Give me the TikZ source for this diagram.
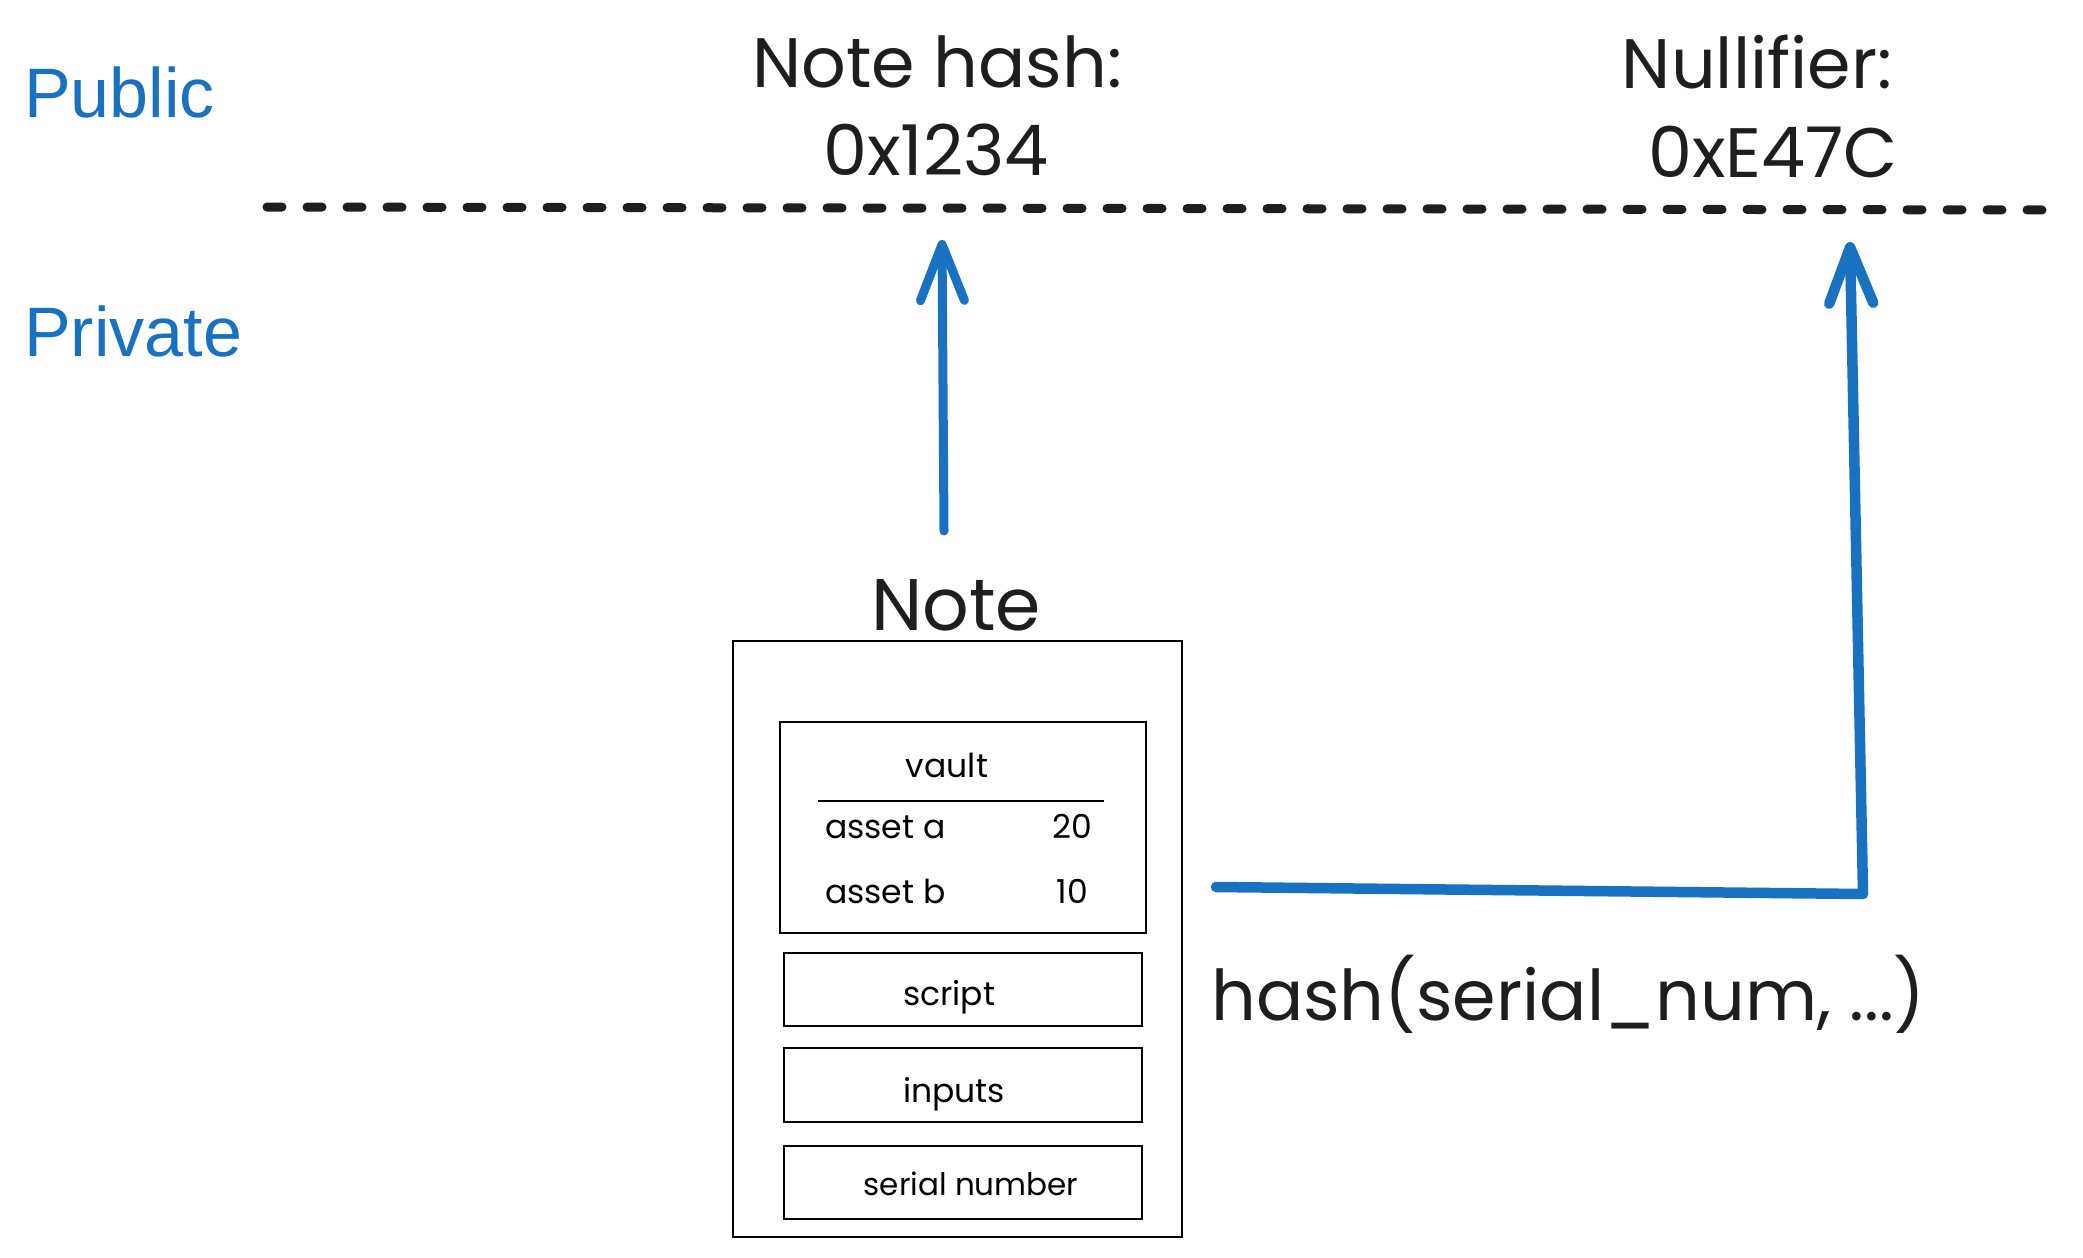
\documentclass[tikz,border=0pt]{standalone}
\usepackage{fontspec}
\setmainfont{Poppins}
\newfontfamily\labelfont{Liberation Sans}
\usetikzlibrary{arrows.meta}
\definecolor{ink}{HTML}{1E1E1E}
\definecolor{exblue}{HTML}{1971C2}
\begin{document}
\begin{tikzpicture}[x=1pt,y=-1pt,
  zone/.style={anchor=base west, inner sep=0, text=exblue, font=\labelfont\fontsize{70}{84}\selectfont},
  big/.style={anchor=base, inner sep=0, text=ink, font=\fontsize{70}{84}\selectfont},
  small/.style={anchor=base, inner sep=0, text=black, font=\fontsize{33}{40}\selectfont},
  boxframe/.style={draw=black, line width=2.2pt, inner sep=0, fill=none},
  bluearrow/.style={draw=exblue, line width=9pt, line cap=round, line join=round,
    -{Straight Barb[length=56pt,width=44pt,round]}},
  divider/.style={draw=ink, line width=9pt, line cap=round, dash pattern=on 15pt off 25pt},
]
\useasboundingbox (0,0) rectangle (2083,1258);

% zone labels
\node[zone] (public) at (24,117) {Public};
\node[zone] (private) at (24,356) {Private};

% divider
\coordinate (dl) at (267,207);
\coordinate (dr) at (2055,210);
\draw[divider] (dl) -- (dr);

% public values
\node[big] (nhlabel) at (937,87) {Note hash:};
\node[big] (nhval) at (936,175) {0x1234};
\node[big] (nulabel) at (1757,88) {Nullifier:};
\node[big] (nuval) at (1773,177) {0xE47C};

% note
\node[big, font=\fontsize{73}{88}\selectfont] (notetitle) at (956,630) {Note};
\node[boxframe, minimum width=449pt, minimum height=596pt] (note) at (957.5,939) {};
\node[boxframe, minimum width=366pt, minimum height=211pt] (vault) at (963,827.5) {};
\node[boxframe, minimum width=358pt, minimum height=73pt] (script) at (963,989.5) {};
\node[boxframe, minimum width=358pt, minimum height=74pt] (inputs) at (963,1085) {};
\node[boxframe, minimum width=358pt, minimum height=73pt] (serial) at (963,1182.5) {};

\node[small] (vaulttxt) at (947,777) {vault};
\coordinate (sepl) at (818,801);
\coordinate (sepr) at (1104,801);
\draw[black, line width=2.2pt] (sepl) -- (sepr);
\node[small, anchor=base west] (assetA) at (825,838) {asset a};
\node[small, anchor=base east] (valA) at (1092,838) {20};
\node[small, anchor=base west] (assetB) at (825,903) {asset b};
\node[small, anchor=base east] (valB) at (1088,903) {10};
\node[small] (scripttxt) at (949,1005) {script};
\node[small] (inputstxt) at (954,1102) {inputs};
\node[small, font=\fontsize{31}{38}\selectfont] (serialtxt) at (971,1195) {serial number};

% hash label
\node[big, anchor=base west] (hashtxt) at (1211,1020) {hash(serial\_num, ...)};

% arrows
\coordinate (nhstart) at (944,531);
\coordinate (nhtip) at (942,240);
\draw[bluearrow] (nhstart) -- (nhtip);

\coordinate (nustart) at (1216,887);
\coordinate (nucorner) at (1863,894);
\coordinate (nutip) at (1850,242);
\draw[bluearrow, line width=10.5pt] (nustart) -- (nucorner) -- (nutip);
\end{tikzpicture}
\end{document}
